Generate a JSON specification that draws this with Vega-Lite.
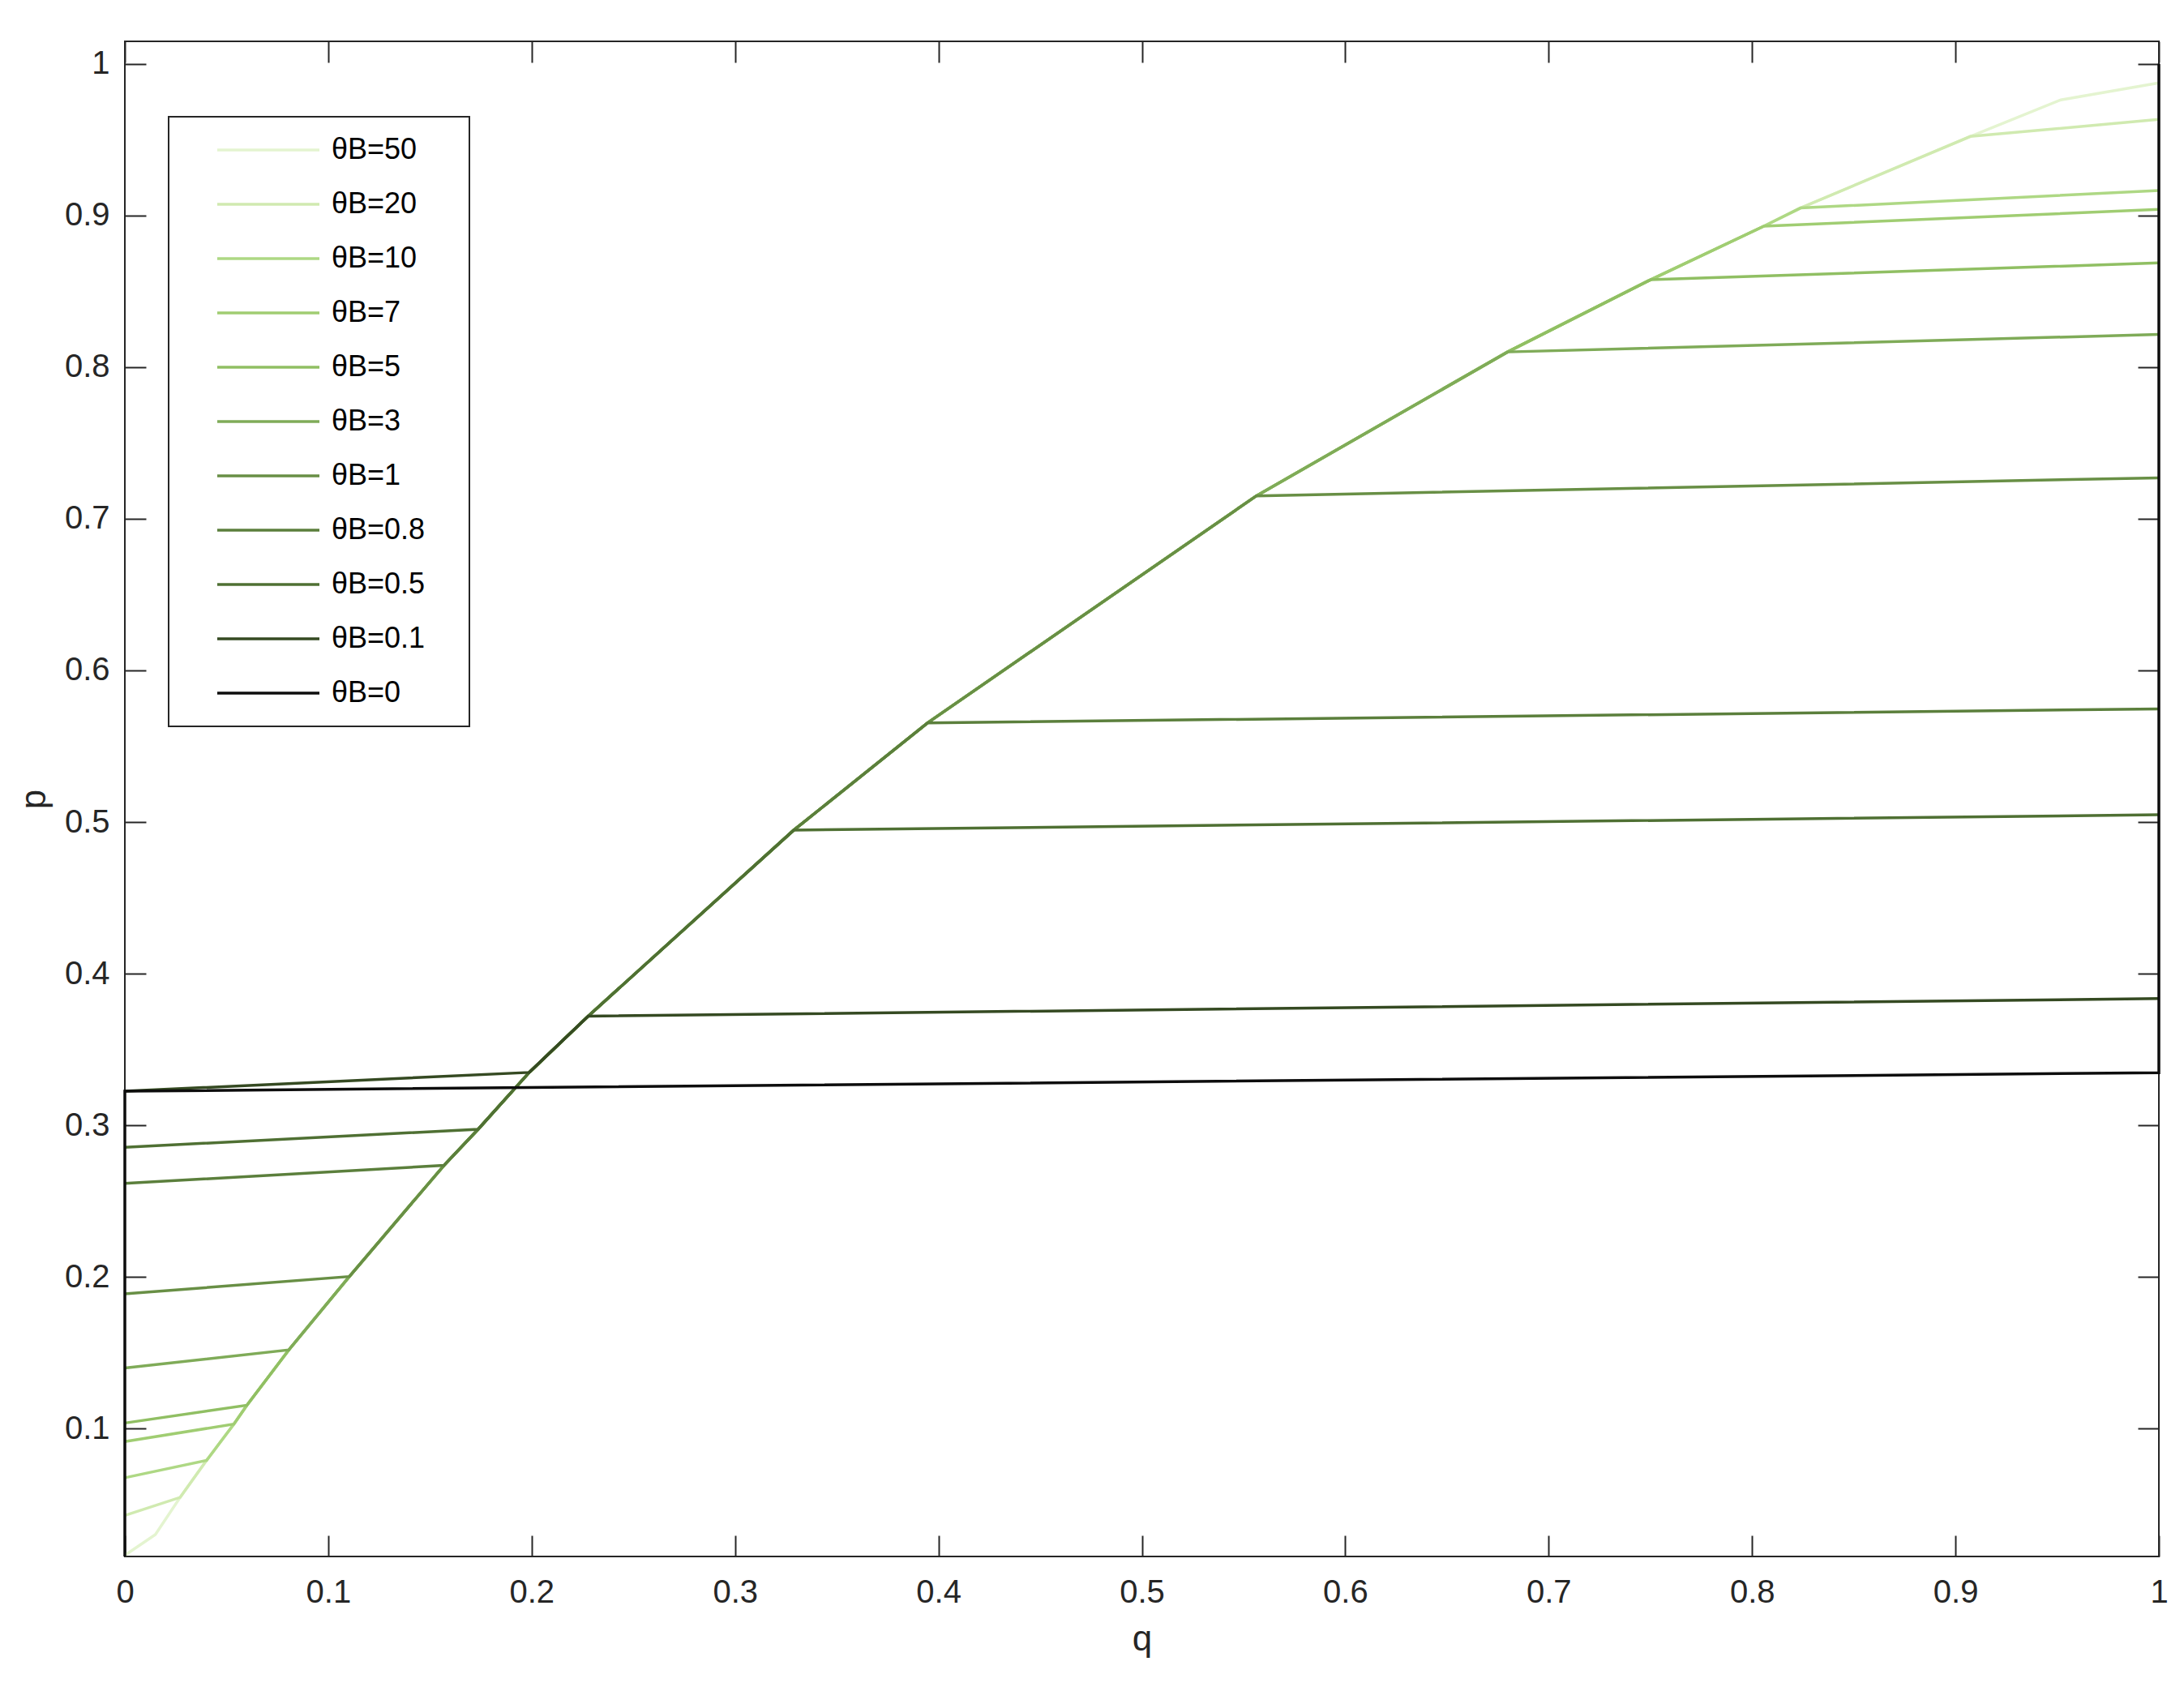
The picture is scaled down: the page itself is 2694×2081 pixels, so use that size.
{
  "$schema": "https://vega.github.io/schema/vega-lite/v6.json",
  "width": 2509,
  "height": 1869,
  "autosize": {"type": "none"},
  "padding": {"left": 154, "top": 51, "right": 31, "bottom": 161},
  "background": "white",
  "config": {
    "view": {"stroke": "#262626", "strokeWidth": 2},
    "font": "Liberation Sans",
    "axis": {
      "labelFont": "Liberation Sans",
      "titleFont": "Liberation Sans",
      "labelColor": "#262626",
      "titleColor": "#262626",
      "tickColor": "#262626",
      "domain": false,
      "grid": false,
      "tickWidth": 2,
      "tickSize": -26,
      "labelFontSize": 40,
      "titleFontSize": 44,
      "titleFontWeight": "normal",
      "labelFlush": false,
      "labelOverlap": false
    },
    "legend": {"strokeWidth": 2}
  },
  "data": {
    "values": [
      {"t":"50","k":0,"q":0,"p":0.0165},
      {"t":"50","k":1,"q":0.015,"p":0.0301},
      {"t":"50","k":2,"q":0.0272,"p":0.0547},
      {"t":"50","k":3,"q":0.0402,"p":0.0791},
      {"t":"50","k":4,"q":0.0536,"p":0.103},
      {"t":"50","k":5,"q":0.06,"p":0.1154},
      {"t":"50","k":6,"q":0.0806,"p":0.1519},
      {"t":"50","k":7,"q":0.1104,"p":0.2003},
      {"t":"50","k":8,"q":0.1569,"p":0.2736},
      {"t":"50","k":9,"q":0.1737,"p":0.2974},
      {"t":"50","k":10,"q":0.1988,"p":0.3349},
      {"t":"50","k":11,"q":0.2278,"p":0.372},
      {"t":"50","k":12,"q":0.3289,"p":0.4947},
      {"t":"50","k":13,"q":0.3947,"p":0.5654},
      {"t":"50","k":14,"q":0.5563,"p":0.7151},
      {"t":"50","k":15,"q":0.6798,"p":0.81},
      {"t":"50","k":16,"q":0.7501,"p":0.8576},
      {"t":"50","k":17,"q":0.8058,"p":0.8929},
      {"t":"50","k":18,"q":0.8238,"p":0.9049},
      {"t":"50","k":19,"q":0.9073,"p":0.9521},
      {"t":"50","k":20,"q":0.9518,"p":0.9762},
      {"t":"50","k":21,"q":1,"p":0.9874},

      {"t":"20","k":0,"q":0,"p":0.0428},
      {"t":"20","k":1,"q":0.0272,"p":0.0547},
      {"t":"20","k":2,"q":0.0402,"p":0.0791},
      {"t":"20","k":3,"q":0.0536,"p":0.103},
      {"t":"20","k":4,"q":0.06,"p":0.1154},
      {"t":"20","k":5,"q":0.0806,"p":0.1519},
      {"t":"20","k":6,"q":0.1104,"p":0.2003},
      {"t":"20","k":7,"q":0.1569,"p":0.2736},
      {"t":"20","k":8,"q":0.1737,"p":0.2974},
      {"t":"20","k":9,"q":0.1988,"p":0.3349},
      {"t":"20","k":10,"q":0.2278,"p":0.372},
      {"t":"20","k":11,"q":0.3289,"p":0.4947},
      {"t":"20","k":12,"q":0.3947,"p":0.5654},
      {"t":"20","k":13,"q":0.5563,"p":0.7151},
      {"t":"20","k":14,"q":0.6798,"p":0.81},
      {"t":"20","k":15,"q":0.7501,"p":0.8576},
      {"t":"20","k":16,"q":0.8058,"p":0.8929},
      {"t":"20","k":17,"q":0.8238,"p":0.9049},
      {"t":"20","k":18,"q":0.9073,"p":0.9521},
      {"t":"20","k":19,"q":1,"p":0.9633},

      {"t":"10","k":0,"q":0,"p":0.0676},
      {"t":"10","k":1,"q":0.0402,"p":0.0791},
      {"t":"10","k":2,"q":0.0536,"p":0.103},
      {"t":"10","k":3,"q":0.06,"p":0.1154},
      {"t":"10","k":4,"q":0.0806,"p":0.1519},
      {"t":"10","k":5,"q":0.1104,"p":0.2003},
      {"t":"10","k":6,"q":0.1569,"p":0.2736},
      {"t":"10","k":7,"q":0.1737,"p":0.2974},
      {"t":"10","k":8,"q":0.1988,"p":0.3349},
      {"t":"10","k":9,"q":0.2278,"p":0.372},
      {"t":"10","k":10,"q":0.3289,"p":0.4947},
      {"t":"10","k":11,"q":0.3947,"p":0.5654},
      {"t":"10","k":12,"q":0.5563,"p":0.7151},
      {"t":"10","k":13,"q":0.6798,"p":0.81},
      {"t":"10","k":14,"q":0.7501,"p":0.8576},
      {"t":"10","k":15,"q":0.8058,"p":0.8929},
      {"t":"10","k":16,"q":0.8238,"p":0.9049},
      {"t":"10","k":17,"q":1,"p":0.9164},

      {"t":"7","k":0,"q":0,"p":0.0915},
      {"t":"7","k":1,"q":0.0536,"p":0.103},
      {"t":"7","k":2,"q":0.06,"p":0.1154},
      {"t":"7","k":3,"q":0.0806,"p":0.1519},
      {"t":"7","k":4,"q":0.1104,"p":0.2003},
      {"t":"7","k":5,"q":0.1569,"p":0.2736},
      {"t":"7","k":6,"q":0.1737,"p":0.2974},
      {"t":"7","k":7,"q":0.1988,"p":0.3349},
      {"t":"7","k":8,"q":0.2278,"p":0.372},
      {"t":"7","k":9,"q":0.3289,"p":0.4947},
      {"t":"7","k":10,"q":0.3947,"p":0.5654},
      {"t":"7","k":11,"q":0.5563,"p":0.7151},
      {"t":"7","k":12,"q":0.6798,"p":0.81},
      {"t":"7","k":13,"q":0.7501,"p":0.8576},
      {"t":"7","k":14,"q":0.8058,"p":0.8929},
      {"t":"7","k":15,"q":1,"p":0.904},

      {"t":"5","k":0,"q":0,"p":0.1037},
      {"t":"5","k":1,"q":0.06,"p":0.1154},
      {"t":"5","k":2,"q":0.0806,"p":0.1519},
      {"t":"5","k":3,"q":0.1104,"p":0.2003},
      {"t":"5","k":4,"q":0.1569,"p":0.2736},
      {"t":"5","k":5,"q":0.1737,"p":0.2974},
      {"t":"5","k":6,"q":0.1988,"p":0.3349},
      {"t":"5","k":7,"q":0.2278,"p":0.372},
      {"t":"5","k":8,"q":0.3289,"p":0.4947},
      {"t":"5","k":9,"q":0.3947,"p":0.5654},
      {"t":"5","k":10,"q":0.5563,"p":0.7151},
      {"t":"5","k":11,"q":0.6798,"p":0.81},
      {"t":"5","k":12,"q":0.7501,"p":0.8576},
      {"t":"5","k":13,"q":1,"p":0.8687},

      {"t":"3","k":0,"q":0,"p":0.14},
      {"t":"3","k":1,"q":0.0806,"p":0.1519},
      {"t":"3","k":2,"q":0.1104,"p":0.2003},
      {"t":"3","k":3,"q":0.1569,"p":0.2736},
      {"t":"3","k":4,"q":0.1737,"p":0.2974},
      {"t":"3","k":5,"q":0.1988,"p":0.3349},
      {"t":"3","k":6,"q":0.2278,"p":0.372},
      {"t":"3","k":7,"q":0.3289,"p":0.4947},
      {"t":"3","k":8,"q":0.3947,"p":0.5654},
      {"t":"3","k":9,"q":0.5563,"p":0.7151},
      {"t":"3","k":10,"q":0.6798,"p":0.81},
      {"t":"3","k":11,"q":1,"p":0.8215},

      {"t":"1","k":0,"q":0,"p":0.1889},
      {"t":"1","k":1,"q":0.1104,"p":0.2003},
      {"t":"1","k":2,"q":0.1569,"p":0.2736},
      {"t":"1","k":3,"q":0.1737,"p":0.2974},
      {"t":"1","k":4,"q":0.1988,"p":0.3349},
      {"t":"1","k":5,"q":0.2278,"p":0.372},
      {"t":"1","k":6,"q":0.3289,"p":0.4947},
      {"t":"1","k":7,"q":0.3947,"p":0.5654},
      {"t":"1","k":8,"q":0.5563,"p":0.7151},
      {"t":"1","k":9,"q":1,"p":0.727},

      {"t":"0.8","k":0,"q":0,"p":0.2617},
      {"t":"0.8","k":1,"q":0.1569,"p":0.2736},
      {"t":"0.8","k":2,"q":0.1737,"p":0.2974},
      {"t":"0.8","k":3,"q":0.1988,"p":0.3349},
      {"t":"0.8","k":4,"q":0.2278,"p":0.372},
      {"t":"0.8","k":5,"q":0.3289,"p":0.4947},
      {"t":"0.8","k":6,"q":0.3947,"p":0.5654},
      {"t":"0.8","k":7,"q":1,"p":0.5746},

      {"t":"0.5","k":0,"q":0,"p":0.2855},
      {"t":"0.5","k":1,"q":0.1737,"p":0.2974},
      {"t":"0.5","k":2,"q":0.1988,"p":0.3349},
      {"t":"0.5","k":3,"q":0.2278,"p":0.372},
      {"t":"0.5","k":4,"q":0.3289,"p":0.4947},
      {"t":"0.5","k":5,"q":1,"p":0.5048},

      {"t":"0.1","k":0,"q":0,"p":0.3225},
      {"t":"0.1","k":1,"q":0.1988,"p":0.3349},
      {"t":"0.1","k":2,"q":0.2278,"p":0.372},
      {"t":"0.1","k":3,"q":1,"p":0.3836},

      {"t":"0","k":0,"q":0,"p":0.0157},
      {"t":"0","k":1,"q":0,"p":0.3225},
      {"t":"0","k":2,"q":1,"p":0.3347},
      {"t":"0","k":3,"q":1,"p":1}
    ]
  },
  "layer": [
    {
      "mark": {"type": "line", "strokeWidth": 3.5},
      "encoding": {
        "x": {
          "field": "q", "type": "quantitative",
          "scale": {"domain": [0, 1], "nice": false},
          "axis": {
            "orient": "bottom",
            "values": [0, 0.1, 0.2, 0.3, 0.4, 0.5, 0.6, 0.7, 0.8, 0.9, 1],
            "format": "~g",
            "labelPadding": 50,
            "title": "q",
            "titleY": 115,
            "titleBaseline": "alphabetic"
          }
        },
        "y": {
          "field": "p", "type": "quantitative",
          "scale": {"domain": [0.0157, 1.0148], "nice": false, "zero": false},
          "axis": {
            "orient": "left",
            "values": [0.1, 0.2, 0.3, 0.4, 0.5, 0.6, 0.7, 0.8, 0.9, 1],
            "format": "~g",
            "labelPadding": 45,
            "title": "p",
            "titleX": -99,
            "titleBaseline": "alphabetic"
          }
        },
        "color": {
          "field": "t", "type": "nominal",
          "scale": {
            "domain": ["50", "20", "10", "7", "5", "3", "1", "0.8", "0.5", "0.1", "0"],
            "range": ["#e4f4d0", "#d0eab0", "#aed884", "#a0cd72", "#90bf63", "#7fab58", "#688f45", "#5b7f3c", "#4f7033", "#354a22", "#0d0d0d"]
          },
          "legend": {
            "orient": "none",
            "legendX": 54,
            "legendY": 93,
            "title": null,
            "symbolType": "stroke",
            "symbolSize": 15876,
            "symbolStrokeWidth": 3.5,
            "labelFontSize": 36,
            "labelFont": "Liberation Sans",
            "labelColor": "#000000",
            "labelOffset": 13,
            "labelLimit": 400,
            "symbolOffset": 37,
            "padding": 21,
            "rowPadding": 27,
            "clipHeight": 40,
            "strokeColor": "#262626",
            "fillColor": "white",
            "labelExpr": "'θB=' + datum.label + '\u2009\u2800'"
          }
        },
        "order": {"field": "k", "type": "quantitative"}
      }
    },
    {
      "mark": {"type": "point", "opacity": 0},
      "encoding": {
        "x": {
          "field": "q", "type": "quantitative",
          "axis": {"orient": "top", "values": [0, 0.1, 0.2, 0.3, 0.4, 0.5, 0.6, 0.7, 0.8, 0.9, 1], "labels": false, "title": null}
        },
        "y": {
          "field": "p", "type": "quantitative",
          "axis": {"orient": "right", "values": [0.1, 0.2, 0.3, 0.4, 0.5, 0.6, 0.7, 0.8, 0.9, 1], "labels": false, "title": null}
        }
      }
    }
  ],
  "resolve": {"axis": {"x": "independent", "y": "independent"}}
}
